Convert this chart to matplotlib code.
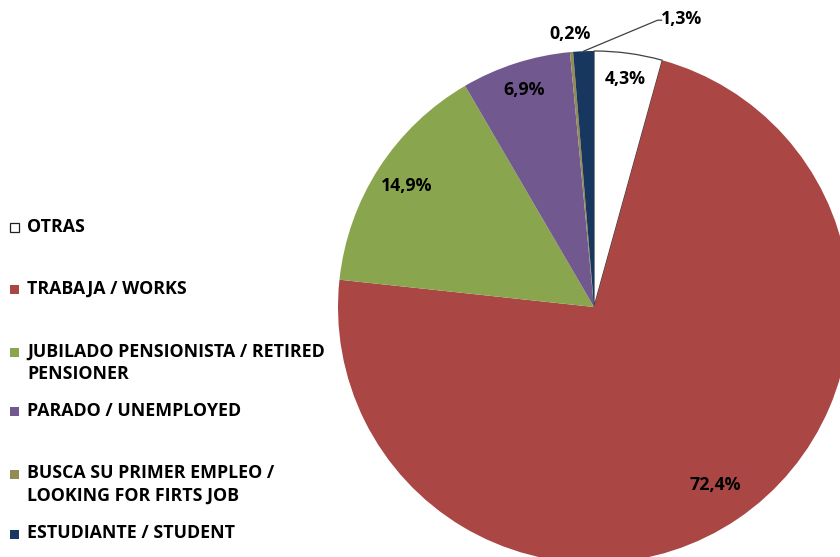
import numpy as np
import matplotlib.pyplot as plt
from matplotlib.patches import Rectangle

# data (clockwise from 12 o'clock)
categories = ['OTRAS', 'TRABAJA / WORKS', 'JUBILADO PENSIONISTA / RETIRED\nPENSIONER',
              'PARADO / UNEMPLOYED', 'BUSCA SU PRIMER EMPLEO /\nLOOKING FOR FIRTS JOB',
              'ESTUDIANTE / STUDENT']
values = [4.3, 72.4, 14.9, 6.9, 0.2, 1.3]
colors = ['#FFFFFF', '#AA4643', '#89A54E', '#71588F', '#948A54', '#17375E']
label_dist = [0.9, 0.84, 0.87, 0.89, 1.07, None]

plt.rcParams['font.family'] = ['Open Sans', 'DejaVu Sans']
FS = 12.8

fig = plt.figure(figsize=(8.4, 5.57), dpi=100)
ax = fig.add_axes([0, 0, 1, 1])

cx, cy, r = 594, 250, 256
wedges, _ = ax.pie(values, colors=colors, startangle=90, counterclock=False,
                   center=(cx, cy), radius=r, frame=True)
for w, c in zip(wedges, colors):
    if c == '#FFFFFF':
        w.set_edgecolor('#404040')
        w.set_linewidth(0.9)
    else:
        w.set_edgecolor('none')
ax.set_xlim(0, 840)
ax.set_ylim(0, 557)
ax.set_aspect('equal')
ax.axis('off')

def fmt(v):
    return f'{v:.1f}'.replace('.', ',') + '%'

for w, v, d in zip(wedges, values, label_dist):
    mid = np.deg2rad((w.theta1 + w.theta2) / 2)
    if d is None:
        # leader line for the small student slice
        ex, ey = cx + r * np.cos(mid), cy + r * np.sin(mid)
        lx, ly = ex + 74, ey + 31
        ax.plot([ex, lx, lx + 4], [ey, ly, ly], color='#404040', lw=0.9)
        ax.text(lx + 3, ly + 1, fmt(v), fontsize=FS, fontweight='bold',
                ha='left', va='center')
        continue
    ax.text(cx + d * r * np.cos(mid), cy + d * r * np.sin(mid), fmt(v),
            fontsize=FS, fontweight='bold', ha='center', va='center')

# legend drawn by hand (uneven Excel spacing)
leg_y = [227, 289, 352, 411, 474, 534]
for lab, c, y in zip(categories, colors, leg_y):
    yy = 557 - y
    ax.add_patch(Rectangle((10, yy - 4.5), 9, 9, facecolor=c,
                           edgecolor='#202020' if c == '#FFFFFF' else 'none', lw=0.9))
    ax.text(27, yy + 9.5, lab, fontsize=FS, fontweight='bold', ha='left', va='top',
            linespacing=1.3)

fig.savefig('out.png', dpi=100)
